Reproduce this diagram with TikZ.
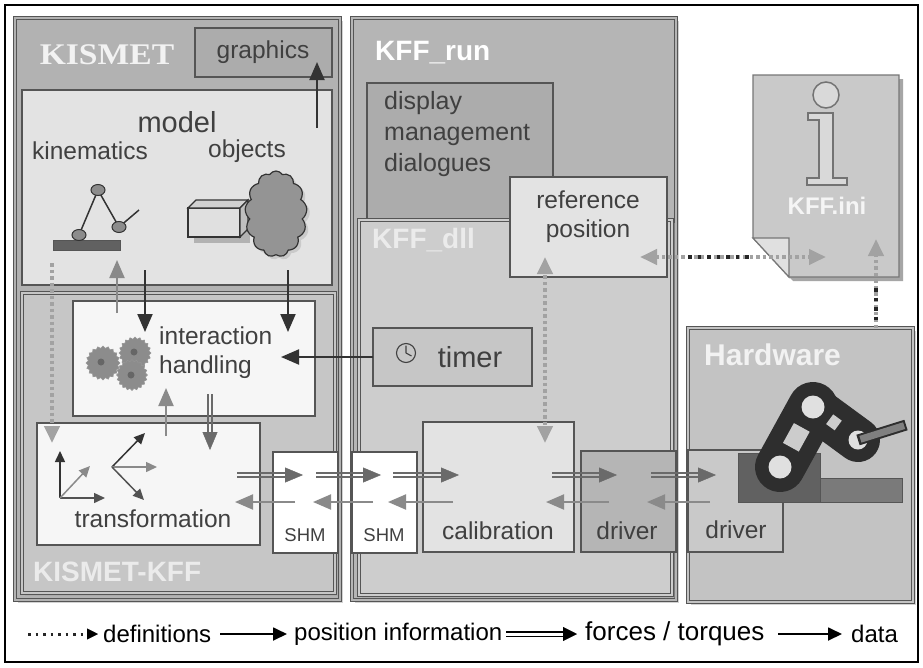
\documentclass[tikz,border=0pt]{standalone}
\usepackage{fontspec}
\setmainfont{Liberation Sans}
\newfontfamily\titleserif{Liberation Serif}
\usetikzlibrary{arrows.meta,calc,shapes.symbols,shapes.geometric,shadows}

\definecolor{edge}{HTML}{555555}
\definecolor{txt}{HTML}{404040}
\definecolor{darkarrow}{HTML}{333333}
\definecolor{grayarrow}{HTML}{8A8A8A}
\definecolor{forcegray}{HTML}{6A6A6A}
\definecolor{dotgray}{HTML}{A2A2A2}
\definecolor{kismetbg}{HTML}{B2B2B2}
\definecolor{kkffbg}{HTML}{C6C6C6}
\definecolor{runbg}{HTML}{B5B5B5}
\definecolor{dllbg}{HTML}{CDCDCD}
\definecolor{lightbox}{HTML}{E3E3E3}
\definecolor{whitebox}{HTML}{F6F6F6}
\definecolor{midbox}{HTML}{ACACAC}
\definecolor{hwbg}{HTML}{C3C3C3}
\definecolor{robot}{HTML}{2E2E2E}

% box helper: style, name, x1, y1, x2, y2 (top-left to bottom-right)
\newcommand\boxnode[6]{%
  \node[#1, anchor=north west, inner sep=0pt, outer sep=0pt,
        minimum width={(#5-#3)*1pt}, minimum height={(#6-#4)*1pt}] (#2) at (#3,#4) {};}

% double-lined force arrows
\newcommand\forceright[2]{%
  \draw[forceline] ([yshift=2pt]#1) -- ([xshift=-12pt,yshift=2pt]#2);
  \draw[forceline] ([yshift=-2pt]#1) -- ([xshift=-12pt,yshift=-2pt]#2);
  \draw[forcetip] ([xshift=-18pt]#2) -- (#2);}
\newcommand\forcedown[2]{%
  \draw[forceline] ([xshift=2pt]#1) -- ([yshift=12pt,xshift=2pt]#2);
  \draw[forceline] ([xshift=-2pt]#1) -- ([yshift=12pt,xshift=-2pt]#2);
  \draw[forcetip] ([yshift=18pt]#2) -- (#2);}

\begin{document}
\begin{tikzpicture}[x=1pt,y=-1pt,
  bigtip/.style={-{Triangle[length=18pt,width=15pt]}},
  panel/.style={fill=#1, draw=edge, line width=0.9pt, double=#1, double distance=2.2pt,
                drop shadow={shadow xshift=2.5pt, shadow yshift=-2.5pt, fill=black!35}},
  box/.style={fill=#1, draw=edge, line width=1.2pt},
  lbl/.style={text=txt, font=\fontsize{24.5}{29}\selectfont, inner sep=0pt},
  title/.style={text=white, font=\fontsize{28}{32}\selectfont\bfseries, inner sep=0pt},
  legendtxt/.style={font=\fontsize{24}{28}\selectfont, anchor=west, inner sep=0pt},
  posarrow/.style={draw=darkarrow, line width=2pt, bigtip},
  dataarrow/.style={draw=grayarrow, line width=2pt, bigtip},
  forceline/.style={draw=forcegray, line width=1.3pt},
  forcetip/.style={draw=forcegray, line width=0.4pt, -{Triangle[length=18pt,width=15pt]}},
  defarrow/.style={draw=dotgray, line width=4pt, dash pattern=on 3.5pt off 3pt,
                   -{Triangle[length=17pt,width=15pt]}},
  defblack/.style={draw=black!85, line width=4pt, dash pattern=on 3.5pt off 6pt},
  smallax/.style={line width=1.5pt, -{Triangle[length=11pt,width=10pt]}},
]
\useasboundingbox (0,0) rectangle (923,667);

% outer frame
\boxnode{draw=black, line width=1.4pt, fill=white}{frame}{5}{5}{918}{662}

% ---------------- KISMET ----------------
\boxnode{panel=kismetbg}{kismet}{15}{18}{340}{600}
\boxnode{box=midbox}{graphics}{195}{28}{332}{77}
\boxnode{box=lightbox}{model}{22}{90}{332}{285}
\boxnode{panel=kkffbg}{kismetkff}{22}{293}{335}{593}
\boxnode{box=whitebox}{interaction}{73}{301}{315}{416}
\boxnode{box=whitebox}{transformation}{37}{423}{260}{545}

% ---------------- KFF_run / KFF_dll ----------------
\boxnode{panel=runbg}{kffrun}{352}{18}{676}{600}
\boxnode{box=midbox}{display}{367}{83}{553}{262}
\boxnode{panel=dllbg}{kffdll}{359}{220}{672}{595}
\boxnode{box=lightbox}{reference}{510}{177}{667}{277}
\boxnode{box=kkffbg}{timer}{373}{328}{532}{386}
\boxnode{box=lightbox}{calibration}{423}{422}{574}{552}
\boxnode{box=runbg}{driverA}{581}{451}{676}{552}

% shared memory blocks
\boxnode{box=white}{shmA}{273}{452}{338}{553}
\boxnode{box=white}{shmB}{352}{452}{417}{553}

% ---------------- Hardware ----------------
\boxnode{panel=hwbg}{hardware}{688}{328}{913}{602}
\boxnode{box=hwbg!90!white}{driverB}{688}{450}{783}{552}

% robot: base and arm
\fill[black!62, draw=edge, line width=0.8pt] (738,453) rectangle (820,502);
\fill[black!52, draw=edge, line width=0.8pt] (820,478) rectangle (902,502);
\coordinate (jA) at (780,467);
\coordinate (jB) at (813,407);
\coordinate (jC) at (858,440);
\coordinate (tool) at (906,425);
\draw[robot, line width=50pt, line cap=round] (jA) -- (jB);
\draw[robot, line width=44pt, line cap=round] (jB) -- (jC);
\draw[black!20, line width=18pt] ($(jA)!0.33!(jB)$) -- ($(jA)!0.66!(jB)$);
\draw[black!20, line width=12pt] ($(jB)!0.37!(jC)$) -- ($(jB)!0.56!(jC)$);
\fill[black!12] (jA) circle (11.5) (jB) circle (11.5) (jC) circle (9.5);
\draw[robot, line width=11pt] (jC) -- (tool);
\draw[black!50, line width=7pt] ($(jC)!0.05!(tool)$) -- ($(tool)!2pt!(jC)$);

% ---------------- KFF.ini file ----------------
\coordinate (iniNW) at (753,75);
\fill[black!35] (757,79) -- (903,79) -- (903,281) -- (793,281) -- (757,242) -- cycle;
\draw[fill=black!21, draw=edge!80, line width=1.2pt]
  (753,75) -- (899,75) -- (899,277) -- (789,277) -- (753,238) -- cycle;
\draw[fill=black!12, draw=edge!80, line width=1.2pt]
  (753,238) -- (789,238) -- (789,277) -- cycle;
% information sign
\draw[fill=black!15, draw=black!55, line width=1.5pt] (826,95) circle (13);
\draw[fill=black!15, draw=black!55, line width=1.5pt]
  (808,113) -- (833,113) -- (833,178) -- (847,178) -- (847,185) -- (807,185)
  -- (807,178) -- (819,178) -- (819,120) -- (808,120) -- cycle;
\node[title, font=\fontsize{24}{28}\selectfont\bfseries, text=white!96!black] (ininame) at (827,206) {KFF.ini};

% ---------------- icons ----------------
% kinematic chain
\fill[black!62, draw=edge, line width=0.8pt] (53,240) rectangle (120,250);
\draw[darkarrow, line width=1.5pt] (79,235) -- (98,190) -- (119,227) -- (139,210);
\foreach \p in {(79,235),(98,190),(119,227)}
  \draw[fill=black!45, draw=darkarrow, line width=1pt] \p ellipse (7 and 5.5);
% block and cloud
\fill[black!30] (194,214) rectangle (250,243);
\draw[fill=black!12, draw=darkarrow, line width=1.2pt] (188,208) rectangle (240,237);
\draw[fill=black!18, draw=darkarrow, line width=1.2pt] (188,208) -- (196,200) -- (248,200) -- (240,208) -- cycle;
\draw[fill=black!25, draw=darkarrow, line width=1.2pt] (240,208) -- (248,200) -- (248,229) -- (240,237) -- cycle;
\node[cloud, cloud puffs=13, cloud puff arc=115, aspect=0.62, minimum width=62pt, minimum height=86pt,
      fill=black!42, draw=darkarrow, line width=1.2pt, inner sep=0pt,
      drop shadow={shadow xshift=3pt, shadow yshift=-3pt, fill=black!30}] (cloudicon) at (276,214) {};
% gears
\foreach \c/\r in {{(103,363)}/17, {(135,353)}/16, {(132,375)}/15.5}{
  \node[star, star points=20, star point ratio=1.15, minimum size=2*\r pt, inner sep=0pt,
        fill=black!45, draw=black!42, line width=0.6pt] at \c {};
}
\foreach \c in {(101,362),(134,352),(131,375)}
  \fill[black!60] \c circle (3.5);
% coordinate frames
\draw[smallax, darkarrow] (60,498) -- (60,451);
\draw[smallax, darkarrow!85!white] (60,498) -- (105,498);
\draw[smallax, grayarrow] (60,498) -- (90,466);
\draw[smallax, darkarrow] (112,467) -- (145,433);
\draw[smallax, grayarrow] (112,467) -- (157,467);
\draw[smallax, darkarrow!85!white] (112,467) -- (144,500);
% clock
\draw[txt, line width=1.1pt] (406,353) circle (9.5);
\draw[txt, line width=1.1pt] (406,353) -- (406,345.5) (406,353) -- (411.5,356);

% ---------------- texts ----------------
\node[text=white!95!black, font=\titleserif\fontsize{30}{34}\selectfont\bfseries, xscale=1.12, inner sep=0pt] (kismetname) at (107,55) {KISMET};
\node[lbl] (graphicsname) at (263,52) {graphics};
\node[lbl, font=\fontsize{29}{32}\selectfont] (modelname) at (177,122) {model};
\node[lbl] (kinname) at (90,151) {kinematics};
\node[lbl] (objname) at (247,151) {objects};
\node[lbl, align=left, anchor=west] (intname) at (159,353) {interaction\\handling};
\node[lbl] (trname) at (153,519) {transformation};
\node[lbl, font=\fontsize{18.5}{22}\selectfont] (shmAname) at (305,535) {SHM};
\node[lbl, font=\fontsize{18.5}{22}\selectfont] (shmBname) at (384,535) {SHM};
\node[title, font=\fontsize{28}{32}\selectfont\bfseries, text=white!92!black, anchor=west] (kkffname) at (33,572) {KISMET-KFF};
\node[title, anchor=west] (runname) at (375,53) {KFF\_run};
\node[title, anchor=west, text=white!92!black] (dllname) at (372,240) {KFF\_dll};
\node[lbl, font=\fontsize{25}{31}\selectfont, align=left, anchor=north west] (dispname) at (384,91) {display\\management\\dialogues};
\node[lbl, align=center] (refname) at (588,217) {reference\\position};
\node[lbl, font=\fontsize{29}{32}\selectfont] (timername) at (470,357) {timer};
\node[lbl] (calname) at (498,531) {calibration};
\node[lbl] (drvAname) at (627,531) {driver};
\node[lbl] (drvBname) at (736,530) {driver};
\node[title, font=\fontsize{30}{34}\selectfont\bfseries, anchor=west, text=white!95!black] (hwname) at (704,355) {Hardware};

% ---------------- connectors ----------------
% position information
\coordinate (gUp0) at (317,128);  \coordinate (gUp1) at (317,62);
\draw[posarrow] (gUp0) -- (gUp1);
\coordinate (mA0) at (145,270);  \coordinate (mA1) at (145,332);
\coordinate (mB0) at (288,270);  \coordinate (mB1) at (288,332);
\draw[posarrow] (mA0) -- (mA1);
\draw[posarrow] (mB0) -- (mB1);
\coordinate (tmr1) at (281,357);
\draw[posarrow] (timer.west) -- (tmr1);
% data going up
\coordinate (iUp0) at (117,313); \coordinate (iUp1) at (117,260);
\draw[dataarrow] (iUp0) -- (iUp1);
\coordinate (tUp0) at (166,436); \coordinate (tUp1) at (166,388);
\draw[dataarrow] (tUp0) -- (tUp1);
% forces / torques
\coordinate (iDn0) at (210,394); \coordinate (iDn1) at (210,450);
\forcedown{iDn0}{iDn1}
\coordinate (fa0) at (237,475); \coordinate (fa1) at (303,475);
\coordinate (fb0) at (316,475); \coordinate (fb1) at (381,475);
\coordinate (fc0) at (393,475); \coordinate (fc1) at (459,475);
\coordinate (fd0) at (552,475); \coordinate (fd1) at (617,475);
\coordinate (fe0) at (651,475); \coordinate (fe1) at (716,475);
\forceright{fa0}{fa1}
\forceright{fb0}{fb1}
\forceright{fc0}{fc1}
\forceright{fd0}{fd1}
\forceright{fe0}{fe1}
% data going back
\coordinate (da0) at (710,502); \coordinate (da1) at (647,502);
\coordinate (db0) at (609,502); \coordinate (db1) at (546,502);
\coordinate (dc0) at (453,502); \coordinate (dc1) at (388,502);
\coordinate (dd0) at (373,502); \coordinate (dd1) at (313,502);
\coordinate (de0) at (295,502); \coordinate (de1) at (235,502);
\foreach \s/\e in {da0/da1, db0/db1, dc0/dc1, dd0/dd1, de0/de1}
  \draw[dataarrow] (\s) -- (\e);
% definitions
\coordinate (dm0) at (52,263); \coordinate (dm1) at (52,443);
\draw[defarrow] (dm0) -- (dm1);
\coordinate (rc0) at (545,350); \coordinate (rcTop) at (545,257); \coordinate (rcBot) at (545,443);
\draw[defarrow] (rc0) -- (rcTop);
\draw[defarrow] (rc0) -- (rcBot);
\coordinate (ri0) at (730,257); \coordinate (riL) at (640,257); \coordinate (riR) at (826,257);
\draw[defarrow] (ri0) -- (riL);
\draw[defarrow] (ri0) -- (riR);
\draw[defblack] (688,257) -- (752,257);
\coordinate (hw0) at (876,328); \coordinate (hw1) at (876,239);
\draw[defarrow] (hw0) -- (hw1);
\draw[defblack] (876,288) -- (876,322);

% ---------------- legend ----------------
\coordinate (l1a) at (28,634); \coordinate (l1b) at (98,634);
\draw[black!85, line width=3pt, dash pattern=on 2.5pt off 5pt] (l1a) -- ([xshift=-10pt]l1b);
\draw[black, line width=0.4pt, -{Triangle[length=11pt,width=11pt]}] ([xshift=-11pt]l1b) -- (l1b);
\node[legendtxt] (ldef) at (103,634) {definitions};
\coordinate (l2a) at (220,634); \coordinate (l2b) at (287,634);
\draw[black, line width=1.8pt, -{Triangle[length=14pt,width=13pt]}] (l2a) -- (l2b);
\node[legendtxt] (lpos) at (294,634) {position information};
\coordinate (l3a) at (506,634); \coordinate (l3b) at (577,634);
\draw[black, line width=1.6pt] ([yshift=2.3pt]l3a) -- ([xshift=-10pt,yshift=2.3pt]l3b);
\draw[black, line width=1.6pt] ([yshift=-2.3pt]l3a) -- ([xshift=-10pt,yshift=-2.3pt]l3b);
\draw[black, line width=0.4pt, -{Triangle[length=14pt,width=14pt]}] ([xshift=-14pt]l3b) -- (l3b);
\node[legendtxt, font=\fontsize{26}{30}\selectfont] (lfor) at (585,634) {forces / torques};
\coordinate (l4a) at (778,634); \coordinate (l4b) at (842,634);
\draw[black, line width=1.8pt, -{Triangle[length=14pt,width=13pt]}] (l4a) -- (l4b);
\node[legendtxt] (ldata) at (851,634) {data};
\end{tikzpicture}
\end{document}
